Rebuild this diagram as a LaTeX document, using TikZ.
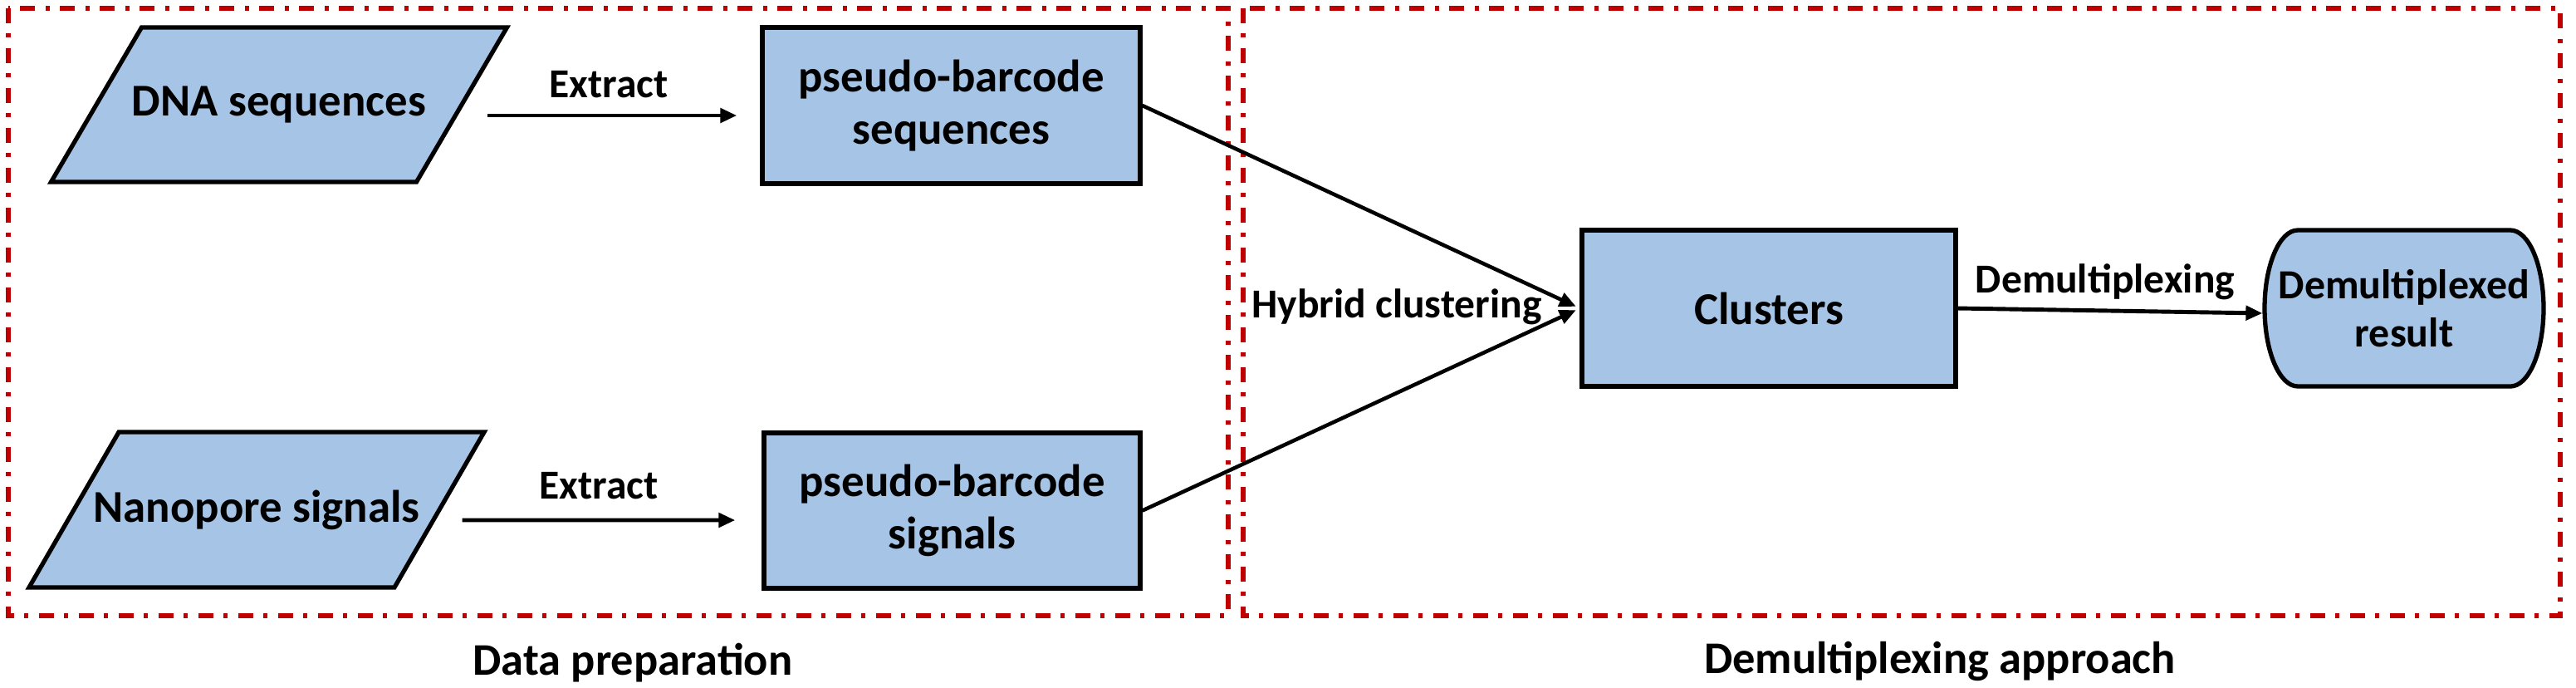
\documentclass[tikz,border=0pt]{standalone}
\usepackage{fontspec}
\setmainfont{Carlito}
\usepackage{tikz}
\usetikzlibrary{arrows.meta}
\definecolor{boxcol}{HTML}{A6C4E6}
\definecolor{redcol}{HTML}{C00000}

\begin{document}
\begin{tikzpicture}[>={Triangle[length=2.0mm, width=1.7mm]},
  box/.style={draw=black, line width=1.5pt, fill=boxcol},
  txt/.style={font=\bfseries\fontsize{15.6}{18}\selectfont, align=center, inner sep=0pt},
  lbl/.style={font=\bfseries\fontsize{14.1}{16}\selectfont, anchor=base, inner sep=0pt},
  grp/.style={draw=redcol, line width=1.5pt, dash pattern=on 1.8mm off 1.2mm on 0.5mm off 1.3mm},
  grplbl/.style={font=\bfseries\fontsize{15.5}{18}\selectfont, anchor=base, inner sep=0pt},
  flow/.style={->, line width=1.4pt}]
\useasboundingbox (0,0) rectangle (31.02,-8.27);
\draw[grp] (0.10,-0.10) rectangle (14.79,-7.41);
\draw[grp] (14.97,-0.10) rectangle (30.83,-7.41);
\draw[box, shift={(3.36,-1.26)}, xslant=0.586] (-2.2,-0.93) rectangle (2.2,0.93) (0,0) node[txt, minimum width=4.41cm, minimum height=1.86cm] (dna) {DNA sequences};
\draw[box, shift={(3.09,-6.135)}, xslant=0.578] (-2.2,-0.935) rectangle (2.2,0.935) (0,0) node[txt, minimum width=4.41cm, minimum height=1.87cm] (nano) {Nanopore signals};
\node[box, txt, minimum width=4.55cm, minimum height=1.88cm] (seq) at (11.455,-1.27) {pseudo-barcode\\sequences};
\node[box, txt, minimum width=4.53cm, minimum height=1.87cm] (sig) at (11.465,-6.145) {pseudo-barcode\\signals};
\node[box, txt, minimum width=4.50cm, minimum height=1.88cm] (clu) at (21.30,-3.71) {Clusters};
\draw[box, shift={(28.95,-3.71)}] (-1.28,0.94) -- (1.28,0.94) arc[start angle=90, end angle=-90, x radius=0.4, y radius=0.94] -- (-1.28,-0.94) arc[start angle=270, end angle=90, x radius=0.4, y radius=0.94] -- cycle (0,0) node[txt, font=\bfseries\fontsize{14.2}{16.5}\selectfont, minimum width=3.36cm, minimum height=1.88cm] (res) {Demultiplexed\\result};
\draw[flow, shorten <=0.275cm, shorten >=0.28cm] ([yshift=-0.13cm]dna.east) -- ([yshift=-0.12cm]seq.west);
\draw[flow, shorten <=0.245cm, shorten >=0.32cm] ([yshift=-0.125cm]nano.east) -- ([yshift=-0.115cm]sig.west);
\draw[flow, line width=1.3pt, shorten >=0.05cm] (seq.east) -- (clu.west);
\draw[flow, line width=1.3pt, shorten >=0.05cm] (sig.east) -- (clu.west);
\draw[flow] (clu.east) -- ([yshift=-0.06cm]res.west);
\node[lbl] (ext1) at (7.33,-1.17) {Extract};
\node[lbl] (ext2) at (7.21,-6.00) {Extract};
\node[lbl] (hyb) at (16.82,-3.82) {Hybrid clustering};
\node[lbl] (dem) at (25.35,-3.52) {Demultiplexing};
\node[grplbl] (prep) at (7.62,-8.12) {Data preparation};
\node[grplbl] (appr) at (23.36,-8.10) {Demultiplexing approach};
\end{tikzpicture}
\end{document}
